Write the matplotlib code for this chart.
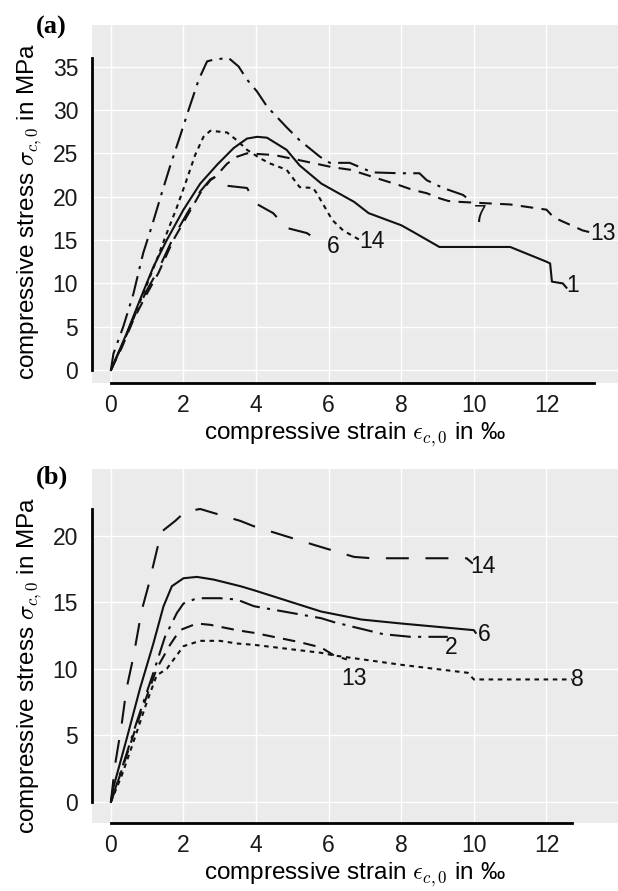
import matplotlib
matplotlib.use("Agg")
import matplotlib.pyplot as plt

# ---- panel (a) data: strain in permille, stress in MPa
a1_x = [0, 0.43, 0.8, 1.17, 1.54, 2.0, 2.46, 2.93, 3.38, 3.75, 4.03, 4.3, 4.84, 5.2, 5.8,
        6.7, 7.1, 8.0, 8.3, 9.05, 11.0, 12.0, 12.1, 12.15, 12.45, 12.55]
a1_y = [0, 4.2, 8.1, 11.9, 15.0, 18.5, 21.5, 23.7, 25.6, 26.7, 26.9, 26.8, 25.4, 23.6, 21.5,
        19.4, 18.1, 16.7, 16.0, 14.2, 14.2, 12.5, 12.3, 10.2, 10.0, 9.5]

a7_x = [0, 0.07, 0.34, 0.62, 0.89, 1.12, 1.4, 1.63, 1.9, 2.14, 2.42, 2.65, 2.83, 3.24, 3.52,
        3.75, 4.03, 4.3, 4.84, 5.2, 5.76, 6.03, 6.58, 7.2, 7.96, 8.5, 8.7, 9.15, 9.7, 9.95]
a7_y = [0, 1.9, 5.0, 8.8, 13.5, 16.5, 20.4, 23.5, 26.9, 30.0, 33.5, 35.6, 35.8, 36.0, 35.0,
        33.5, 32.1, 30.4, 28.0, 26.5, 24.6, 23.9, 23.9, 22.8, 22.7, 22.7, 21.9, 21.0, 20.2, 19.4]

a13_x = [0, 0.3, 0.62, 0.99, 1.31, 1.72, 2.09, 2.46, 2.74, 2.88, 3.2, 3.47, 3.75, 4.5, 5.2,
         6.1, 6.6, 7.2, 7.5, 7.96, 8.3, 8.7, 9.06, 9.3, 9.6, 11.0, 12.0, 12.2, 13.0, 13.3]
a13_y = [0, 2.6, 5.8, 8.8, 11.2, 15.0, 17.7, 20.4, 21.9, 22.3, 23.8, 24.6, 25.0, 24.8, 24.2,
         23.4, 23.1, 22.3, 21.9, 21.3, 20.8, 20.4, 19.8, 19.5, 19.4, 19.1, 18.5, 17.6, 16.1, 15.8]

a6_x = [0, 0.3, 0.62, 0.99, 1.31, 1.72, 2.09, 2.46, 2.74, 2.88, 3.1, 3.75, 4.0, 4.47, 4.84,
        5.4, 5.76]
a6_y = [0, 2.8, 6.0, 9.2, 11.6, 15.3, 18.0, 20.6, 22.0, 22.3, 21.3, 21.0, 19.2, 18.1, 16.4,
        15.8, 14.8]

a14_x = [0, 0.16, 0.53, 0.89, 1.26, 1.54, 1.82, 2.05, 2.32, 2.55, 2.74, 3.2, 3.47, 3.75, 4.12,
         4.4, 4.84, 5.2, 5.57, 5.67, 6.1, 6.4, 6.86]
a14_y = [0, 1.5, 5.0, 8.8, 12.7, 15.8, 18.8, 21.5, 24.8, 26.9, 27.6, 27.4, 26.5, 25.4, 24.4,
         23.8, 23.1, 21.1, 21.0, 20.4, 17.3, 16.1, 15.0]

# ---- panel (b) data
b14_x = [0, 0.11, 0.29, 0.43, 0.62, 0.85, 1.03, 1.31, 1.4, 1.77, 2.05, 2.46, 2.83, 3.2, 3.57,
         3.94, 5.6, 6.7, 7.2, 9.8, 9.97]
b14_y = [0, 2.7, 5.7, 8.5, 10.9, 14.4, 16.2, 19.4, 20.3, 21.1, 21.8, 22.0, 21.7, 21.4, 21.1,
         20.7, 19.3, 18.4, 18.3, 18.3, 17.9]

b6_x = [0, 0.06, 0.43, 0.8, 1.17, 1.45, 1.68, 2.0, 2.37, 2.83, 3.57, 3.94, 5.79, 6.9, 8.0,
        10.0, 10.05]
b6_y = [0, 1.0, 4.7, 8.5, 11.9, 14.7, 16.2, 16.8, 16.9, 16.7, 16.2, 15.9, 14.3, 13.7, 13.4,
        12.9, 12.7]

b2_x = [0, 0.3, 0.71, 1.17, 1.49, 1.82, 2.0, 2.37, 3.0, 3.47, 3.94, 5.79, 6.15, 7.5, 8.26, 9.28]
b2_y = [0, 2.5, 6.0, 9.7, 12.4, 14.2, 14.9, 15.3, 15.3, 15.2, 14.7, 13.8, 13.5, 12.6, 12.4, 12.4]

b13_x = [0, 0.3, 0.8, 1.26, 1.63, 1.9, 2.37, 2.74, 3.47, 3.94, 5.2, 5.79, 6.15, 6.5]
b13_y = [0, 2.4, 6.5, 10.0, 11.8, 12.9, 13.4, 13.3, 12.9, 12.7, 12.0, 11.6, 11.0, 10.7]

b8_x = [0, 0.3, 0.62, 0.99, 1.26, 1.54, 2.0, 2.46, 3.0, 3.47, 3.94, 5.79, 6.15, 8.0, 9.83,
        10.0, 12.7]
b8_y = [0, 2.0, 4.5, 7.5, 9.5, 10.0, 11.7, 12.1, 12.1, 11.9, 11.8, 11.2, 11.0, 10.3, 9.7,
        9.2, 9.2]

# curve label text and position (x, y)
a_labels = [("1", 12.55, 9.8), ("7", 10.0, 17.8), ("13", 13.2, 15.7),
            ("6", 5.95, 14.2), ("14", 6.85, 14.8)]
b_labels = [("14", 9.9, 17.7), ("6", 10.1, 12.6), ("2", 9.2, 11.6),
            ("13", 6.35, 9.3), ("8", 12.68, 9.2)]

plt.rcParams['font.family'] = ['Liberation Sans', 'DejaVu Sans']
plt.rcParams['mathtext.fontset'] = 'cm'

SOLID = None
DASHDOT = (10, 3.5, 1.5, 3.5)
DASHED = (6, 4)
DOTTED = (2.2, 2.2)
LONGDASH = (11, 8)

fig = plt.figure(figsize=(6.18, 8.91), dpi=100)
ax_a = fig.add_axes([0.1489, 0.570, 0.8511, 0.402])
ax_b = fig.add_axes([0.1489, 0.0763, 0.8511, 0.3973])


def style_axis(ax, xlim, ylim, yticks, xs, ys, ylab_pos):
    ax.set_facecolor("#EBEBEB")
    ax.set_xlim(*xlim)
    ax.set_ylim(*ylim)
    ax.set_xticks([0, 2, 4, 6, 8, 10, 12])
    ax.set_yticks(yticks)
    ax.grid(True, color="white", linewidth=1.0)
    ax.set_axisbelow(True)
    ax.tick_params(length=0, labelsize=16.5, colors="#1a1a1a")
    ax.tick_params(axis="y", pad=10)
    ax.tick_params(axis="x", pad=8)
    for s in ("top", "right"):
        ax.spines[s].set_visible(False)
    ax.spines["left"].set_linewidth(2.0)
    ax.spines["bottom"].set_linewidth(2.0)
    ax.spines["left"].set_bounds(0, max(max(y) for y in ys))
    ax.spines["bottom"].set_bounds(0, max(max(x) for x in xs))
    ax.set_xlabel(r"compressive strain $\epsilon_{c,0}$ in ‰", fontsize=17.5, labelpad=2)
    ax.set_ylabel(r"compressive stress $\sigma_{c,0}$ in MPa", fontsize=17.5, labelpad=6,
                  y=ylab_pos)


def draw(ax, x, y, dash):
    line, = ax.plot(x, y, color="#111111", linewidth=1.5)
    if dash is not None:
        line.set_dashes(dash)


a_xs = [a1_x, a7_x, a13_x, a6_x, a14_x]
a_ys = [a1_y, a7_y, a13_y, a6_y, a14_y]
for x, y, d in zip(a_xs, a_ys, [SOLID, DASHDOT, DASHED, LONGDASH, DOTTED]):
    draw(ax_a, x, y, d)
style_axis(ax_a, (-0.52, 13.97), (-1.5, 39.8), [0, 5, 10, 15, 20, 25, 30, 35],
           a_xs, a_ys, 0.48)
for t, x, y in a_labels:
    ax_a.text(x, y, t, fontsize=16.5, ha="left", va="center", color="#111111")

b_xs = [b14_x, b6_x, b2_x, b13_x, b8_x]
b_ys = [b14_y, b6_y, b2_y, b13_y, b8_y]
for x, y, d in zip(b_xs, b_ys, [LONGDASH, SOLID, DASHDOT, DASHED, DOTTED]):
    draw(ax_b, x, y, d)
style_axis(ax_b, (-0.52, 13.97), (-1.58, 25.0), [0, 5, 10, 15, 20],
           b_xs, b_ys, 0.445)
for t, x, y in b_labels:
    ax_b.text(x, y, t, fontsize=16.5, ha="left", va="center", color="#111111")

fig.text(0.058, 0.962, "(a)", fontsize=19, fontweight="bold", family="Liberation Serif")
fig.text(0.058, 0.457, "(b)", fontsize=19, fontweight="bold", family="Liberation Serif")

fig.savefig("out.png", dpi=100)
